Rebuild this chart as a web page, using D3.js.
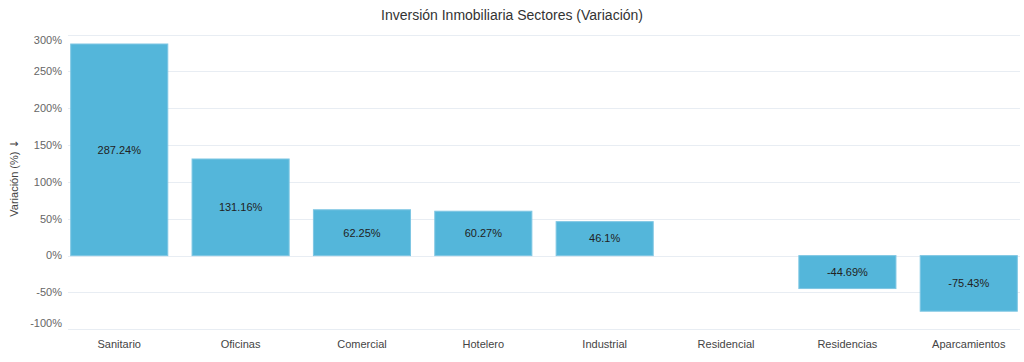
<!DOCTYPE html>
<html>
<head>
<meta charset="utf-8">
<script src="https://cdn.jsdelivr.net/npm/d3@7"></script>
<style>
  html, body { margin: 0; padding: 0; background: #fff; }
  svg { display: block; font-family: "Liberation Sans", Arial, sans-serif; }
</style>
</head>
<body>
<svg id="chart" width="1024" height="362"></svg>
<script>
const categories = ["Sanitario", "Oficinas", "Comercial", "Hotelero", "Industrial", "Residencial", "Residencias", "Aparcamientos"];
const values = [287.24, 131.16, 62.25, 60.27, 46.1, null, -44.69, -75.43];
const yTicks = [300, 250, 200, 150, 100, 50, 0, -50, -100];
const titleText = "Inversión Inmobiliaria Sectores (Variación)";
const yAxisTitle = "Variación (%) ";
const yAxisArrow = "↓";

const svg = d3.select("#chart");
const plotLeft = 68, plotRight = 1020;

const y = d3.scaleLinear().domain([-100, 300]).range([329.3, 34.6]);
const x = d3.scaleBand().domain(categories).range([70.7, 1017.3]).paddingInner(0.2).paddingOuter(0);

// Gridlines
svg.append("g").selectAll("line").data(yTicks).join("line")
  .attr("x1", plotLeft).attr("x2", plotRight)
  .attr("y1", d => Math.round(y(d)) + 0.5).attr("y2", d => Math.round(y(d)) + 0.5)
  .attr("stroke", "#e8edf3").attr("stroke-width", 1);

// Y tick labels (clamped inside area like the reference)
svg.append("g").selectAll("text").data(yTicks).join("text")
  .attr("x", 62).attr("y", d => Math.min(323, Math.max(40, y(d))))
  .attr("dy", "0.35em")
  .attr("text-anchor", "end")
  .attr("font-size", 11).attr("fill", "#666")
  .text(d => d + "%");

// Bars
const data = categories.map((c, i) => ({ c, v: values[i] })).filter(d => d.v !== null && d.v !== 0);
svg.append("g").selectAll("rect").data(data).join("rect")
  .attr("x", d => x(d.c))
  .attr("width", x.bandwidth())
  .attr("y", d => y(Math.max(0, d.v)))
  .attr("height", d => Math.abs(y(d.v) - y(0)))
  .attr("fill", "#54b6da")
  .attr("stroke", "#7ec6e3").attr("stroke-width", 1);

// Bar value labels
svg.append("g").selectAll("text").data(data).join("text")
  .attr("x", d => x(d.c) + x.bandwidth() / 2)
  .attr("y", d => (y(d.v) + y(0)) / 2)
  .attr("dy", "0.35em")
  .attr("text-anchor", "middle")
  .attr("font-size", 11).attr("fill", "#222")
  .text(d => d.v + "%");

// X category labels
svg.append("g").selectAll("text").data(categories).join("text")
  .attr("x", d => x(d) + x.bandwidth() / 2)
  .attr("y", 344)
  .attr("dy", "0.35em")
  .attr("text-anchor", "middle")
  .attr("font-size", 11).attr("fill", "#444")
  .text(d => d);

// Title
svg.append("text")
  .attr("x", 512).attr("y", 15)
  .attr("dy", "0.35em")
  .attr("text-anchor", "middle")
  .attr("font-size", 14).attr("fill", "#333")
  .text(titleText);

// Y axis title
const yt = svg.append("text")
  .attr("transform", "translate(14,178) rotate(-90)")
  .attr("dy", "0.35em")
  .attr("text-anchor", "middle")
  .attr("font-size", 11).attr("fill", "#444");
yt.append("tspan").text(yAxisTitle);
yt.append("tspan").attr("font-family", "DejaVu Sans").attr("font-size", 11).text(yAxisArrow);
</script>
</body>
</html>
